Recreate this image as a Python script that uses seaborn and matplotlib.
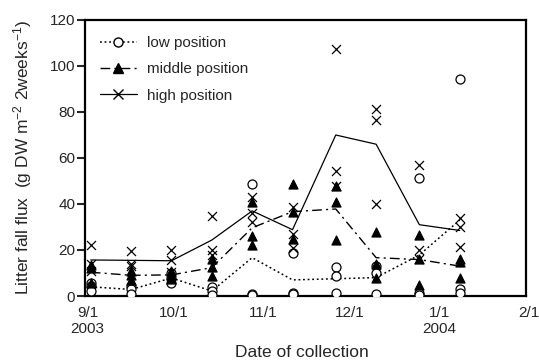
import numpy as np
import pandas as pd
import matplotlib
matplotlib.use("Agg")
import matplotlib.pyplot as plt
import matplotlib.dates as mdates
from matplotlib.lines import Line2D
from matplotlib.transforms import ScaledTranslation
import seaborn as sns

# ---- data ----
dates = ['2003-09-03', '2003-09-17', '2003-10-01', '2003-10-15', '2003-10-29',
         '2003-11-12', '2003-11-27', '2003-12-11', '2003-12-26', '2004-01-09']

low_1 = [5.5, 4.5, 10.0, 4.0, 48.5, 18.5, 12.5, 13.0, 51.5, 94.5]
low_2 = [4.5, 3.0, 8.0, 2.0, 1.0, 1.5, 8.5, 10.0, 1.5, 3.0]
low_3 = [2.0, 1.0, 5.5, 0.5, 0.5, 1.0, 1.5, 1.0, 0.5, 1.5]

mid_1 = [13.5, 11.0, 11.0, 16.0, 41.0, 48.5, 48.0, 28.0, 26.5, 15.0]
mid_2 = [12.0, 9.0, 9.0, 12.5, 26.0, 36.5, 41.0, 14.0, 16.0, 16.0]
mid_3 = [5.5, 7.0, 7.5, 8.5, 22.0, 25.0, 24.5, 8.0, 5.0, 8.0]

high_1 = [22.0, 19.5, 20.0, 35.0, 43.0, 38.5, 107.5, 81.5, 57.0, 34.0]
high_2 = [14.0, 14.0, 15.5, 20.0, 36.0, 27.0, 54.5, 76.5, 20.0, 30.0]
high_3 = [11.0, 13.0, 10.5, 18.0, 32.0, 21.0, 48.0, 40.0, 16.0, 21.5]

positions = ['low position', 'middle position', 'high position']
tick_dates = ['2003-09-01', '2003-10-01', '2003-11-01', '2003-12-01', '2004-01-01', '2004-02-01']
tick_labels = ['9/1\n2003', '10/1', '11/1', '12/1', '1/1\n2004', '2/1']
y_ticks = [0, 20, 40, 60, 80, 100, 120]

# ---- long-form table ----
reps = {'low position': [low_1, low_2, low_3],
        'middle position': [mid_1, mid_2, mid_3],
        'high position': [high_1, high_2, high_3]}
rows = []
for pos in positions:
    for rep in reps[pos]:
        for d, v in zip(dates, rep):
            rows.append({'date': pd.Timestamp(d), 'flux': v, 'position': pos})
df = pd.DataFrame(rows)

# ---- style ----
sns.set_style("ticks")
plt.rcParams['font.family'] = ['Liberation Sans', 'DejaVu Sans']
plt.rcParams['mathtext.default'] = 'regular'

fig = plt.figure(figsize=(5.39, 3.6), dpi=100)
ax = fig.add_axes([85/539, 1 - 296/360, (526 - 85)/539, (296 - 20)/360])

styles = {
    'low position': dict(ls=(0, (1.2, 1.8)), marker='o', mfc='white', lw=1.1),
    'middle position': dict(ls=(0, (7, 3, 1.5, 3)), marker='^', mfc='black', lw=1.0),
    'high position': dict(ls='-', marker='x', mfc='black', lw=0.9),
}

for pos in positions:
    sub = df[df['position'] == pos]
    st = styles[pos]
    sns.lineplot(data=sub, x='date', y='flux', estimator='mean', errorbar=None,
                 color='black', linestyle=st['ls'], linewidth=st['lw'], ax=ax)
    sns.scatterplot(data=sub, x='date', y='flux', marker=st['marker'], s=42,
                    facecolor=st['mfc'] if st['marker'] != 'x' else 'black',
                    edgecolor='black', linewidth=0.9, ax=ax, zorder=3)

ax.set_xlim(pd.Timestamp('2003-09-01'), pd.Timestamp('2004-02-01'))
ax.set_ylim(0, 120)
ax.set_yticks(y_ticks)
ax.set_xticks([mdates.date2num(pd.Timestamp(t)) for t in tick_dates])
ax.set_xticklabels(tick_labels, fontsize=11, linespacing=1.25)
ax.tick_params(axis='y', direction='out', length=6, width=1.5, labelsize=11, pad=1)
ax.tick_params(axis='x', length=0, pad=7)
for lab in ax.get_xticklabels():
    lab.set_transform(lab.get_transform() + ScaledTranslation(2.5/100, 0, fig.dpi_scale_trans))

for sp in ax.spines.values():
    sp.set_visible(True)
    sp.set_linewidth(1.6)
    sp.set_color('black')

ax.set_xlabel('Date of collection', fontsize=12.5)
ax.set_ylabel('Litter fall flux  (g DW m$^{-2}$ 2weeks$^{-1}$)', fontsize=12.5)
ax.xaxis.set_label_coords((302 - 85) / 441, (296 - 345) / 276)
ax.yaxis.set_label_coords((23 - 85) / 441, (296 - 157) / 276)
ax.yaxis.label.set_va('center')
ax.xaxis.label.set_va('top')

handles = [Line2D([], [], color='black', linestyle=styles[p]['ls'], linewidth=styles[p]['lw'],
                  marker=styles[p]['marker'], markersize=6.5,
                  markerfacecolor=styles[p]['mfc'], markeredgecolor='black')
           for p in positions]
ax.legend(handles, positions, loc='upper left', frameon=False, fontsize=11,
          handlelength=2.4, handletextpad=0.7, labelspacing=0.8,
          bbox_to_anchor=(0.01, 0.98), borderaxespad=0.3)

fig.savefig('out.png', dpi=100)
